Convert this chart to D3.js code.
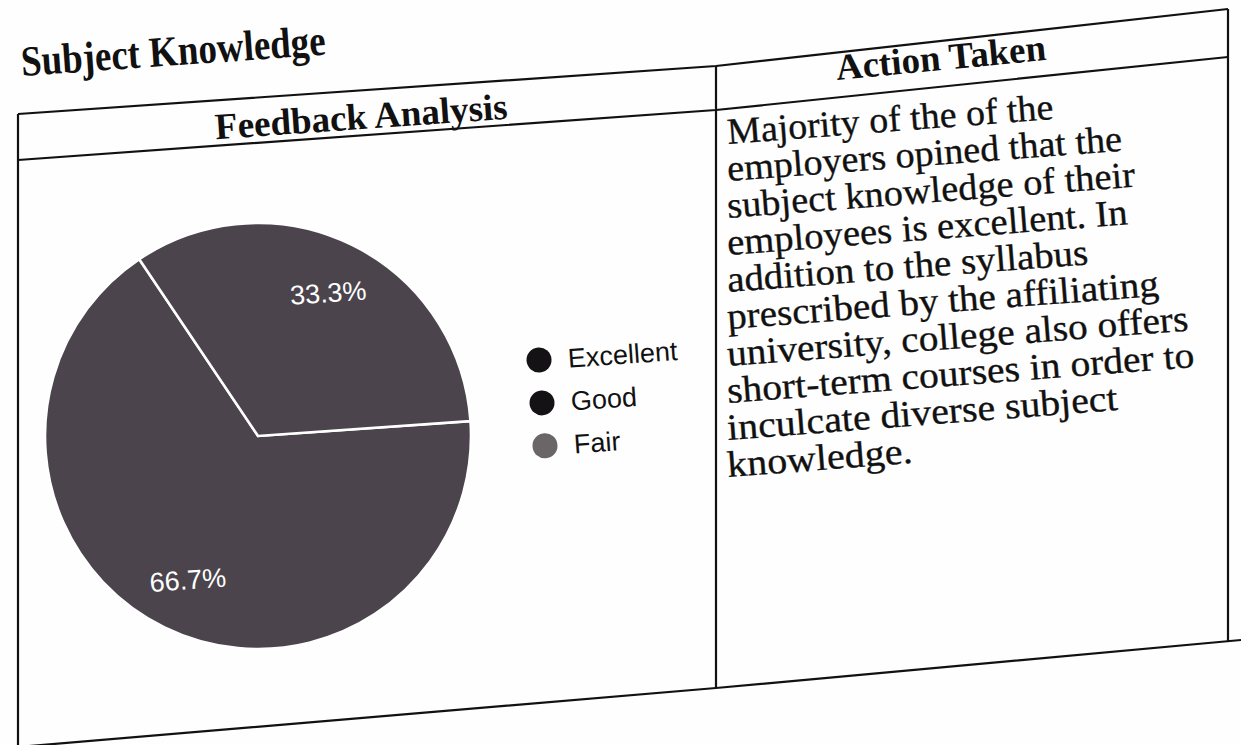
<!DOCTYPE html>
<html><head><meta charset="utf-8">
<script src="https://cdn.jsdelivr.net/npm/d3@7"></script>
<style>html,body{margin:0;padding:0;background:#fff;overflow:hidden;} svg{display:block;}</style>
</head><body>
<svg id="c" width="1241" height="745"></svg>
<script>
// ---- data ----
const categories = ["Excellent", "Good", "Fair"];
const values = [66.7, 33.3, 0];
const sliceLabels = ["66.7%", "33.3%", ""];
const title = "Subject Knowledge";
const headers = ["Feedback Analysis", "Action Taken"];
const actionLines = [
  "Majority of the of the",
  "employers opined that the",
  "subject knowledge of their",
  "employees is excellent. In",
  "addition to the syllabus",
  "prescribed by the affiliating",
  "university, college also offers",
  "short-term courses in order to",
  "inculcate diverse subject",
  "knowledge."
];

// ---- styles / layout ----
const sliceFill = "#4b444c";
const legendFill = ["#141214", "#141214", "#6a6668"];
const ink = "#111";
const tilt = -4;
const serif = "'Liberation Serif','Times New Roman',serif";
const sans = "'Liberation Sans',Arial,sans-serif";

const svg = d3.select("#c");
svg.append("rect").attr("width", 1241).attr("height", 745).attr("fill", "#fefefe");

// table frame (photographed page, perspective)
const frame = [
  [[18,114],[716,66],[1228,9]],
  [[18,160],[716,110],[1228,57]],
  [[18,747],[716,688],[1241,640]],
  [[18,114],[18,747]],
  [[716,66],[716,688]],
  [[1228,9],[1228,642]]
];
const line = d3.line();
svg.append("g").selectAll("path").data(frame).join("path")
  .attr("d", line).attr("fill", "none").attr("stroke", ink).attr("stroke-width", 2.2);

function tText(sel, x, y, txt, size, weight, family, anchor, sx, sy, ang) {
  return sel.append("text")
    .attr("transform", `translate(${x},${y}) rotate(${ang === undefined ? tilt : ang}) scale(${sx || 1},${sy || 1})`)
    .attr("font-family", family).attr("font-size", size).attr("font-weight", weight)
    .attr("text-anchor", anchor || "start").attr("fill", ink).text(txt);
}

// title and headers
tText(svg, 22, 76, title, 37, "bold", serif, "start", 1, 1.16);
tText(svg, 362, 129, headers[0], 37, "bold", serif, "middle");
tText(svg, 942, 70, headers[1], 37, "bold", serif, "middle", 1, 1, -5.5);

// action text
const body = svg.append("g");
actionLines.forEach((t, i) =>
  tText(body, 728, 144 + i * 37, t, 38, "normal", serif, "start", 1 + i * 0.006, 0.97, -4.4)
    .attr("stroke", ink).attr("stroke-width", 0.35));

// pie
const cx = 258, cy = 436, r = 213;
const pie = d3.pie().sort(null).value(d => d)
  .startAngle(86 * Math.PI / 180).endAngle((86 + 360) * Math.PI / 180);
const arcs = pie(values);
const arc = d3.arc().innerRadius(0).outerRadius(r);
const labelArc = d3.arc().innerRadius(r * 0.75).outerRadius(r * 0.75);
const g = svg.append("g").attr("transform", `translate(${cx},${cy})`);
g.selectAll("path").data(arcs.filter(d => d.data > 0)).join("path")
  .attr("d", arc).attr("fill", sliceFill)
  .attr("stroke", "#ffffff").attr("stroke-width", 2.6).attr("stroke-linejoin", "miter");
g.selectAll("text").data(arcs.filter(d => d.data > 0)).join("text")
  .attr("transform", d => { const c = labelArc.centroid(d); return `translate(${c[0]},${c[1]}) rotate(${tilt})`; })
  .attr("text-anchor", "middle").attr("dy", "0.36em")
  .attr("font-family", sans).attr("font-size", 27).attr("fill", "#fff")
  .text(d => sliceLabels[arcs.indexOf(d)]);

// legend
const leg = svg.append("g").attr("transform", `translate(539,360) rotate(${tilt})`);
const items = leg.selectAll("g").data(categories).join("g")
  .attr("transform", (d, i) => `translate(0,${i * 43})`);
items.append("circle").attr("r", 12.5).attr("fill", (d, i) => legendFill[i]);
items.append("text").attr("x", 29).attr("dy", "0.36em")
  .attr("font-family", sans).attr("font-size", 27).attr("fill", ink).text(d => d);
</script>
</body></html>
